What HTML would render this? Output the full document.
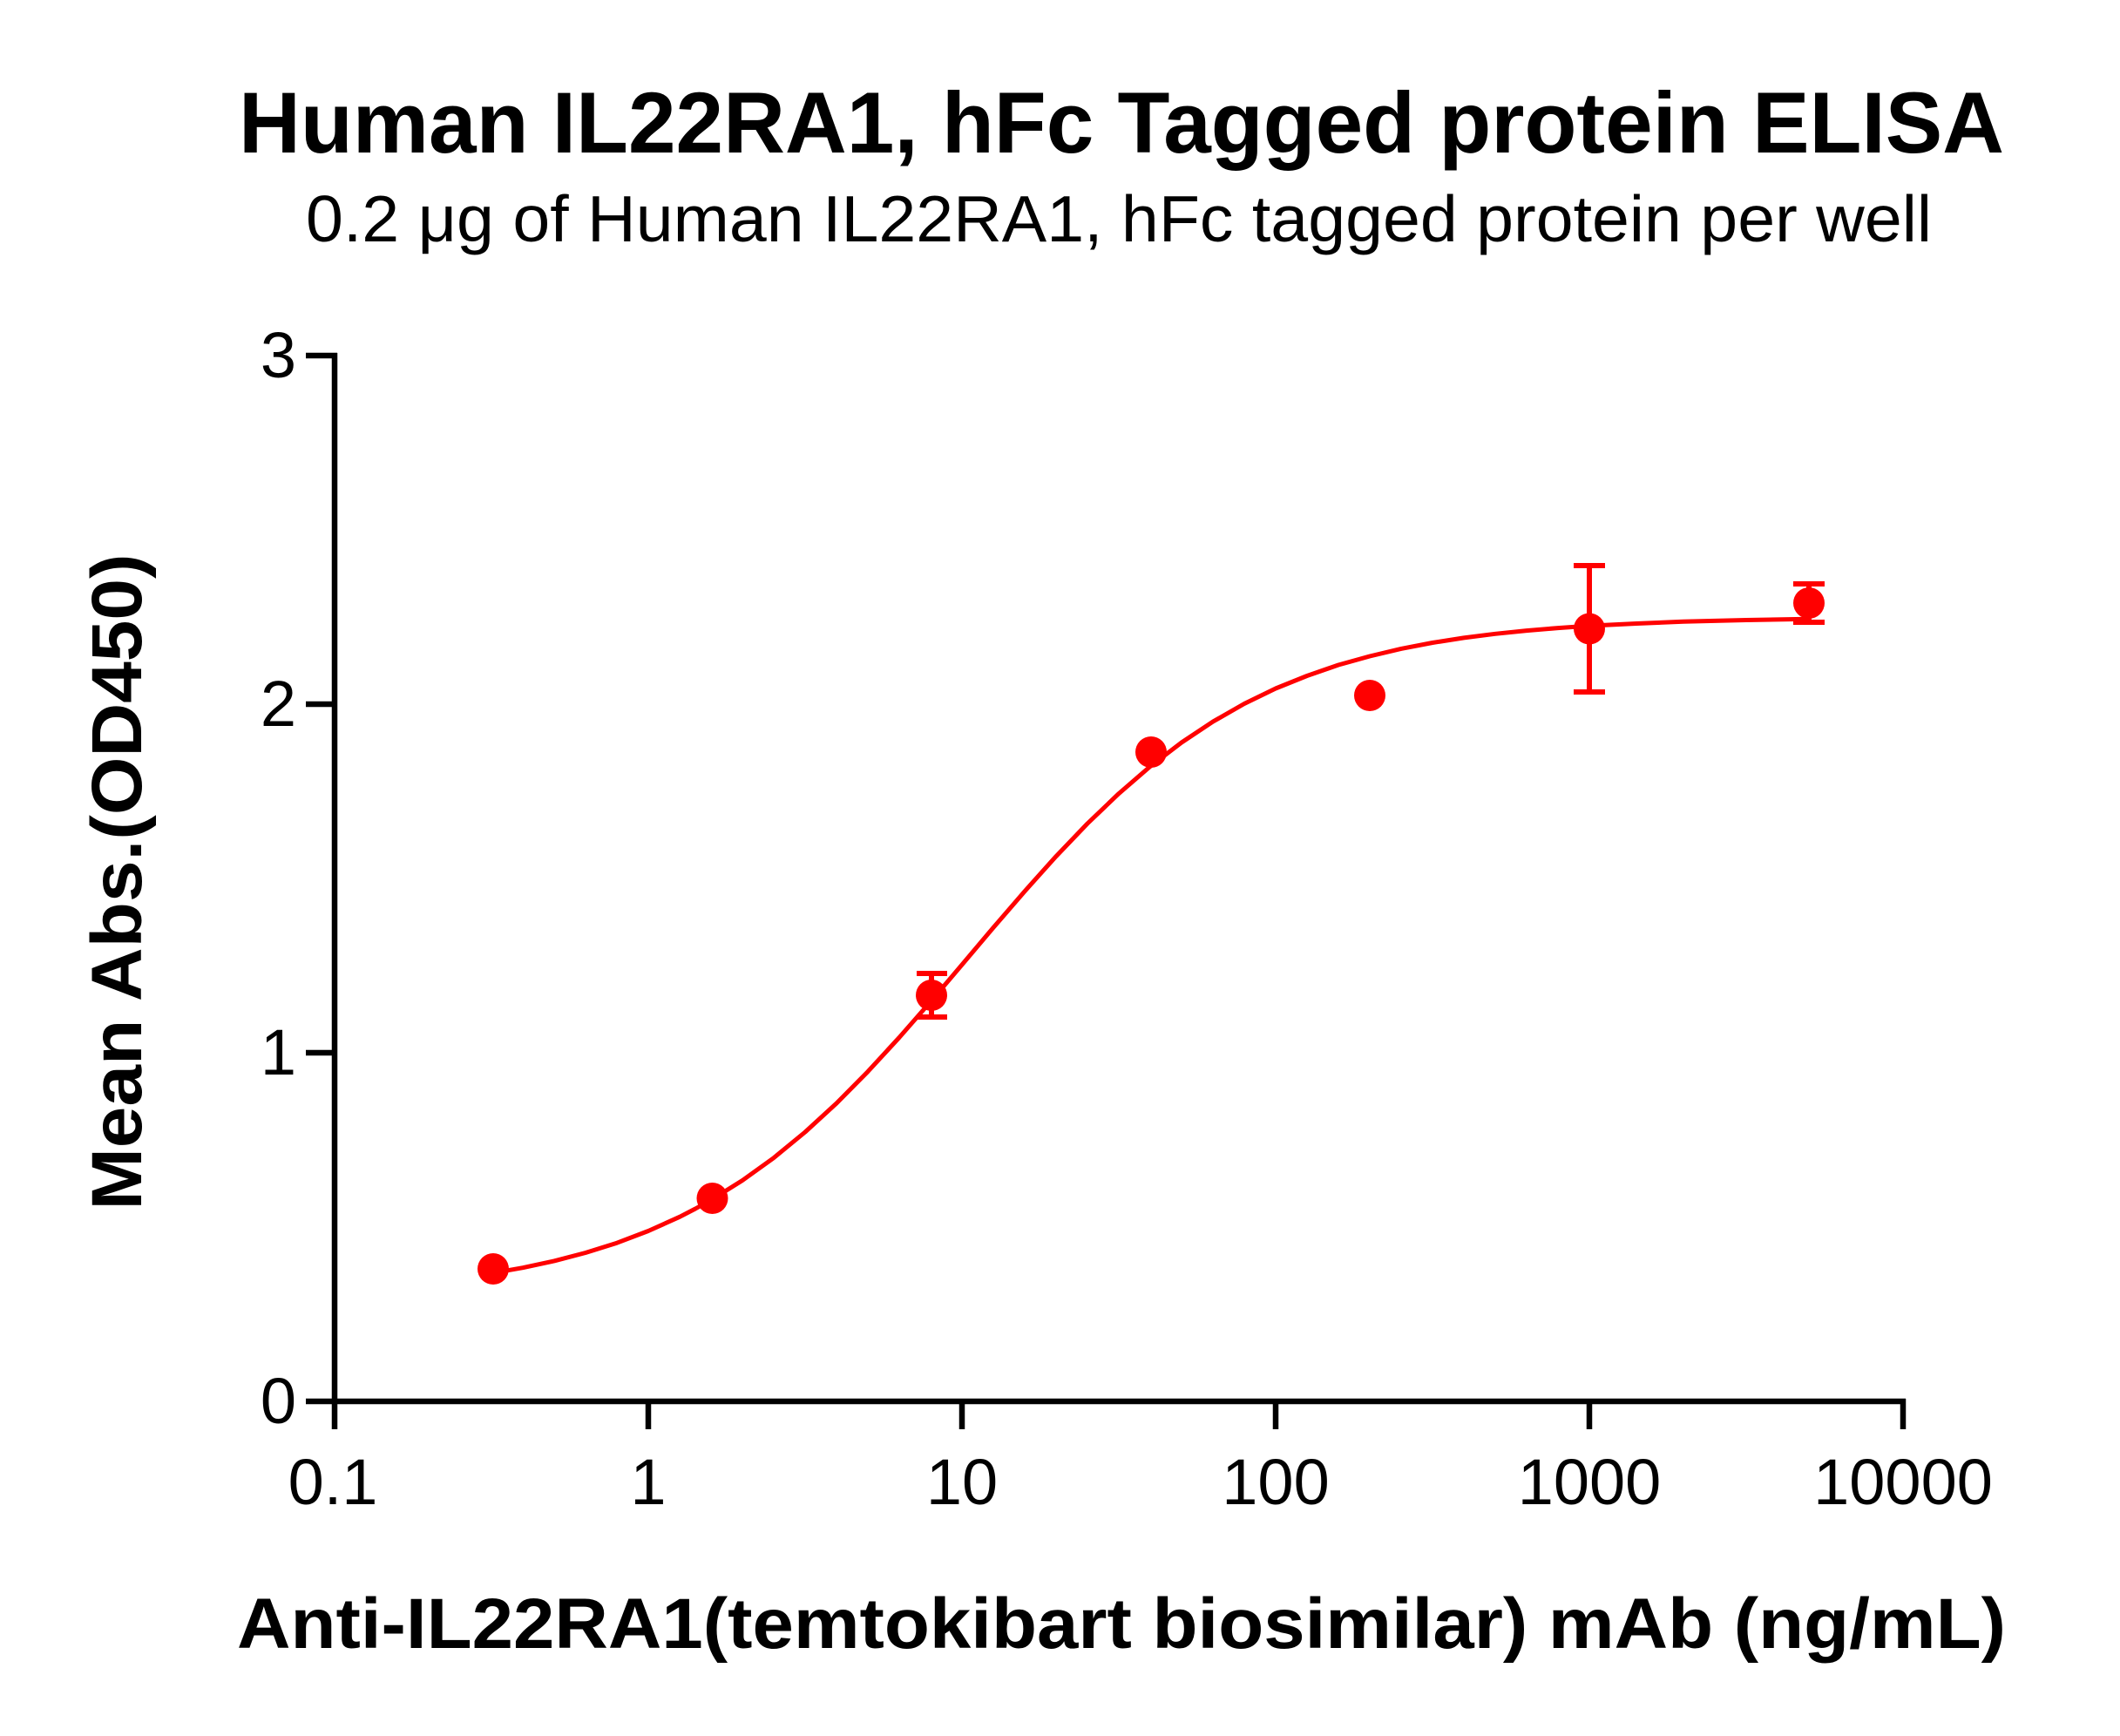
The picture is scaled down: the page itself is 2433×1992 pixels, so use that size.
<!DOCTYPE html>
<html>
<head>
<meta charset="utf-8">
<style>
  html, body { margin: 0; padding: 0; background: #ffffff; }
  body { width: 2433px; height: 1992px; overflow: hidden; }
  svg { display: block; }
  text { font-family: "Liberation Sans", Arial, sans-serif; fill: #000; }
</style>
</head>
<body>
<svg width="2433" height="1992" viewBox="0 0 2433 1992" xmlns="http://www.w3.org/2000/svg">
  <rect x="0" y="0" width="2433" height="1992" fill="#ffffff"/>

  <!-- Titles -->
  <text x="1287" y="175" font-size="99" font-weight="bold" text-anchor="middle" textLength="2026" lengthAdjust="spacingAndGlyphs">Human IL22RA1, hFc Tagged protein ELISA</text>
  <text x="1284" y="277" font-size="75" text-anchor="middle" textLength="1866" lengthAdjust="spacingAndGlyphs">0.2 μg of Human IL22RA1, hFc tagged protein per well</text>

  <!-- Axes -->
  <g stroke="#000" stroke-width="6.5" fill="none" stroke-linecap="butt">
    <line x1="384" y1="405" x2="384" y2="1640"/>
    <line x1="381" y1="1608" x2="2187" y2="1608"/>
    <!-- y ticks -->
    <line x1="351" y1="408" x2="387" y2="408"/>
    <line x1="351" y1="808" x2="384" y2="808"/>
    <line x1="351" y1="1208" x2="384" y2="1208"/>
    <line x1="351" y1="1608" x2="384" y2="1608"/>
    <!-- x ticks -->
    <line x1="744" y1="1608" x2="744" y2="1640"/>
    <line x1="1104" y1="1608" x2="1104" y2="1640"/>
    <line x1="1464" y1="1608" x2="1464" y2="1640"/>
    <line x1="1824" y1="1608" x2="1824" y2="1640"/>
    <line x1="2184" y1="1605" x2="2184" y2="1640"/>
  </g>

  <!-- Y tick labels -->
  <g font-size="74" text-anchor="end">
    <text x="340" y="433">3</text>
    <text x="340" y="833">2</text>
    <text x="340" y="1233">1</text>
    <text x="340" y="1633">0</text>
  </g>

  <!-- X tick labels -->
  <g font-size="74" text-anchor="middle">
    <text x="382" y="1726">0.1</text>
    <text x="744" y="1726">1</text>
    <text x="1104" y="1726">10</text>
    <text x="1464" y="1726">100</text>
    <text x="1824" y="1726">1000</text>
    <text x="2184" y="1726">10000</text>
  </g>

  <!-- Axis labels -->
  <text x="272" y="1891" font-size="82" font-weight="bold" textLength="2030" lengthAdjust="spacingAndGlyphs">Anti-IL22RA1(temtokibart biosimilar) mAb (ng/mL)</text>
  <text transform="translate(162,1012) rotate(-90)" x="0" y="0" font-size="82" font-weight="bold" text-anchor="middle" textLength="753" lengthAdjust="spacingAndGlyphs">Mean Abs.(OD450)</text>

  <!-- Fitted curve -->
  <polyline fill="none" stroke="#ff0000" stroke-width="5" stroke-linejoin="round" stroke-linecap="round"
    points="565.8,1460.7 600,1454.7 636,1446.9 672,1437.5 708,1426.2 744,1412.5 780,1396.3 798,1387.0 816,1377.0 852,1354.5 888,1328.6 924,1299.0 960,1266.0 996,1229.6 1032,1190.5 1068,1149.4 1104,1107.0 1140,1064.4 1176,1022.7 1212,982.6 1248,945.0 1284,910.6 1320,879.5 1356,852.0 1392,828.1 1428,807.5 1464,790.0 1500,775.5 1536,763.0 1572,753.0 1608,744.4 1644,737.5 1680,731.9 1716,727.3 1752,723.6 1788,720.6 1824,718.1 1878,715.5 1932,713.3 2004,711.5 2075.6,710.2"/>

  <!-- Error bars -->
  <g stroke="#ff0000" stroke-width="6" fill="none">
    <line x1="1069" y1="1117" x2="1069" y2="1167"/>
    <line x1="1052" y1="1117" x2="1087" y2="1117"/>
    <line x1="1052" y1="1167" x2="1087" y2="1167"/>

    <line x1="1824" y1="649" x2="1824" y2="794"/>
    <line x1="1806" y1="649" x2="1842" y2="649"/>
    <line x1="1806" y1="794" x2="1842" y2="794"/>

    <line x1="2076" y1="670" x2="2076" y2="714"/>
    <line x1="2058" y1="670" x2="2094" y2="670"/>
    <line x1="2058" y1="714" x2="2094" y2="714"/>
  </g>

  <!-- Data points -->
  <g fill="#ff0000">
    <circle cx="566" cy="1456" r="18"/>
    <circle cx="817.5" cy="1375" r="18"/>
    <circle cx="1069" cy="1142" r="18"/>
    <circle cx="1321" cy="863" r="18"/>
    <circle cx="1572" cy="798" r="18"/>
    <circle cx="1824" cy="721.5" r="18"/>
    <circle cx="2076" cy="692" r="18"/>
  </g>
</svg>
</body>
</html>
